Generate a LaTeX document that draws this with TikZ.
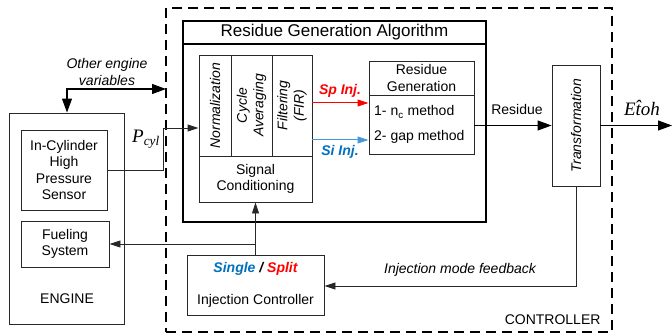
\documentclass[tikz,border=0pt]{standalone}
\usepackage{fontspec}
\setmainfont{Liberation Sans}
\newfontfamily\serifit{Liberation Serif}
\usetikzlibrary{arrows.meta}
\definecolor{myred}{RGB}{255,0,0}
\definecolor{myblue}{RGB}{0,112,192}
\definecolor{lineblue}{RGB}{70,150,220}
\definecolor{boxgray}{RGB}{40,40,40}
\begin{document}
\begin{tikzpicture}[x=1pt,y=-1pt,
  txt/.style={font=\fontsize{14}{16.5}\selectfont},
  box/.style={draw=boxgray, line width=0.9pt, inner sep=0pt, txt, align=center},
  wire/.style={draw=boxgray, line width=0.9pt},
  bigtip/.style={-{Triangle[length=14pt,width=10pt]}},
  smalltip/.style={-{Triangle[length=11pt,width=7pt]}},
  vlab/.style={txt, font=\fontsize{14}{16.5}\selectfont\itshape, rotate=90, align=center},
  lab/.style={txt, font=\fontsize{14}{16.5}\selectfont\itshape, align=center, inner sep=0pt}
]
\useasboundingbox (0,0) rectangle (672,334);
% controller dashed box
\node[draw, line width=2.4pt, dash pattern=on 10pt off 6pt, minimum width=446pt, minimum height=324pt, inner sep=0pt] (ctrl) at (389,170) {};
\node[txt, anchor=base east] (ctrllab) at (604,324) {CONTROLLER};
% residue generation algorithm box
\node[draw, line width=1.5pt, minimum width=303pt, minimum height=201pt, inner sep=0pt] (rga) at (334.5,121.5) {};
\node[draw, line width=1.5pt, minimum width=303pt, minimum height=23pt, inner sep=0pt, font=\fontsize{17}{19}\selectfont] (rgatitle) at (334.5,32.5) {Residue Generation Algorithm};
% signal conditioning
\node[box, minimum width=32pt, minimum height=101pt] (norm) at (215,105.5) {};
\node[vlab] at (norm.center) {Normalization};
\node[box, minimum width=41pt, minimum height=101pt] (cyc) at (251.5,105.5) {};
\node[vlab] at (cyc.center) {Cycle\\Averaging};
\node[box, minimum width=40pt, minimum height=101pt] (fir) at (292,105.5) {};
\node[vlab] at (fir.center) {Filtering\\(FIR)};
\node[box, minimum width=113pt, minimum height=46pt] (sc) at (255.5,179) {Signal\\Conditioning};
% residue generation
\node[box, minimum width=105pt, minimum height=34pt] (rgtop) at (421.5,78) {Residue\\Generation};
\node[box, minimum width=105pt, minimum height=59pt] (rgbot) at (421.5,124.5) {};
\node[txt, anchor=west, inner sep=0pt] (m1) at (374,112) {1- n\textsubscript{c} method};
\node[txt, anchor=west, inner sep=0pt] (m2) at (374,137) {2- gap method};
% transformation
\node[box, minimum width=48pt, minimum height=121pt] (tr) at (576,125.5) {};
\node[vlab] at (tr.center) {Transformation};
% engine
\node[box, minimum width=115pt, minimum height=211pt] (eng) at (66.5,218.5) {};
\node[txt] (englab) at (67,299) {ENGINE};
\node[box, minimum width=86pt, minimum height=80pt] (sens) at (64,170) {In-Cylinder\\High\\Pressure\\Sensor};
\node[box, minimum width=88pt, minimum height=46pt] (fuel) at (65,244) {Fueling\\System};
% injection controller
\node[box, minimum width=137pt, minimum height=60pt] (ic) at (255.5,285) {};
\node[txt, font=\fontsize{14}{16.5}\selectfont\bfseries\itshape] (ss) at (255.5,269) {\textcolor{myblue}{Single} / \textcolor{myred}{Split}};
\node[txt] (iclab) at (255.5,301) {Injection Controller};
% Pcyl
\coordinate (p1) at (163,170);
\coordinate (p2) at (163,128);
\draw[wire, smalltip] (sens.east |- p1) -- (p1) -- (p2) -- (norm.west |- p2);
\node[font=\fontsize{19}{21}\selectfont\serifit\itshape, inner sep=0pt] (pcyl) at (146,139) {P\textsubscript{cyl}};
% other engine variables
\coordinate (ov1) at (67,89);
\coordinate (ov2) at (166,89);
\draw[line width=1.1pt, {Triangle[length=14pt,width=10pt]}-{Triangle[length=14pt,width=10pt]}] (eng.north -| ov1) -- (ov1) -- (ov2);
\node[lab] (ovlab) at (107,72) {Other engine\\variables};
% Sp / Si
\draw[myred, line width=1pt, smalltip] (fir.east |- 0,103) -- (rgbot.west |- 0,103);
\node[lab, font=\fontsize{14}{16.5}\selectfont\bfseries\itshape, text=myred] (sp) at (340,91) {Sp Inj.};
\draw[lineblue, line width=1pt, smalltip] (fir.east |- 0,140) -- (rgbot.west |- 0,140);
\node[lab, font=\fontsize{14}{16.5}\selectfont\bfseries\itshape, text=myblue] (si) at (340,152) {Si Inj.};
% residue
\draw[line width=1.1pt, bigtip] (rgbot.east |- tr.west) -- (tr.west);
\node[txt] (reslab) at (517,109) {Residue};
% output
\coordinate (out) at (672,125.5);
\draw[line width=1.1pt, bigtip] (tr.east) -- (out);
\node[font=\fontsize{19}{21}\selectfont\serifit\itshape, inner sep=0pt] (etoh) at (642,108) {E\^{t}oh};
% IC to SC and fueling
\draw[wire, smalltip] (ic.north) -- (sc.south);
\coordinate (f1) at (255.5,244);
\draw[wire, smalltip] (f1) -- (fuel.east);
% feedback
\coordinate (fb) at (576,286);
\draw[wire, smalltip] (tr.south) -- (fb) -- (ic.east |- fb);
\node[lab] (fblab) at (460,270) {Injection mode feedback};
\end{tikzpicture}
\end{document}
